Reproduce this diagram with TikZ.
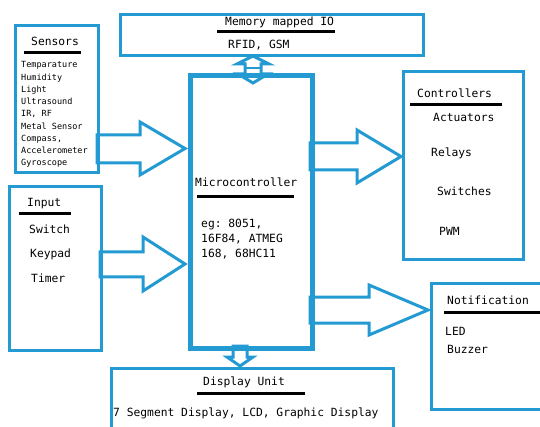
\documentclass[tikz,border=0pt]{standalone}
\usepackage{fontspec}
\setmonofont{DejaVu Sans Mono}
\definecolor{bl}{RGB}{35,155,210}
\begin{document}
\begin{tikzpicture}[x=1pt,y=-1pt,
  box/.style={draw=bl, line width=3pt, inner sep=0pt, anchor=north west},
  txt/.style={font=\fontsize{11.3}{13}\selectfont\ttfamily, inner sep=0pt, anchor=base west},
  smalltxt/.style={font=\fontsize{8.5}{10}\selectfont\ttfamily, inner sep=0pt, anchor=base west},
  uline/.style={draw=black, line width=3pt},
  blk/.style={draw=bl, line width=3pt, fill=white, line join=miter}]
\clip (0,0) rectangle (540,427);
\fill[white] (0,0) rectangle (540,427);

% block arrows (drawn first, boxes on top)
\draw[blk] (97,135) -- (140,135) -- (140,122) -- (185,148.5) -- (140,175) -- (140,163) -- (97,163) -- cycle;
\draw[blk] (100,252) -- (143,252) -- (143,237) -- (185,264) -- (143,291) -- (143,277) -- (100,277) -- cycle;
\draw[blk] (310,143) -- (357,143) -- (357,130) -- (401,156.5) -- (357,183) -- (357,170) -- (310,170) -- cycle;
\draw[blk] (310,297) -- (369,297) -- (369,285) -- (428,310) -- (369,335) -- (369,323) -- (310,323) -- cycle;
\draw[blk] (253,56) -- (237,64) -- (245,64) -- (245,74) -- (238,74) -- (253,83) -- (268,74) -- (261,74) -- (261,64) -- (269,64) -- cycle;
\draw[bl, line width=2.5pt] (245,68) -- (261,68);
\draw[blk] (233,346) -- (233,357) -- (227,357) -- (240,366) -- (253,357) -- (247,357) -- (247,346) -- cycle;

% boxes
\node[box, minimum width=83pt, minimum height=147pt] (sens) at (14,24) {};
\node[box, minimum width=303pt, minimum height=41pt] (mem) at (119,13) {};
\node[box, line width=5pt, minimum width=122pt, minimum height=273pt] (mcu) at (188,73) {};
\node[box, minimum width=92pt, minimum height=164pt] (inp) at (8,185) {};
\node[box, minimum width=120pt, minimum height=188pt] (ctrl) at (402,70) {};
\node[box, minimum width=120pt, minimum height=126pt] (notif) at (430,282) {};
\node[box, minimum width=282pt, minimum height=70pt] (disp) at (110,367) {};

% Sensors
\node[txt] (sensT) at (31,46) {Sensors};
\draw[uline] (24,53) -- (81,53);
\foreach \t [count=\i from 0] in {Temparature,Humidity,Light,Ultrasound,{IR, RF},Metal Sensor,{Compass,},Accelerometer,Gyroscope}
  \node[smalltxt] (s\i) at (21,{68+12.25*\i}) {\t};

% Memory mapped IO
\node[txt] (memT) at (225,26) {Memory mapped IO};
\draw[uline] (217,32) -- (335,32);
\node[txt] (memI) at (228,49) {RFID, GSM};

% Microcontroller
\node[txt] (mcuT) at (195,187) {Microcontroller};
\draw[uline] (197,197) -- (294,197);
\node[txt] (m1) at (201,228) {eg: 8051,};
\node[txt] (m2) at (201,243) {16F84, ATMEG};
\node[txt] (m3) at (201,258) {168, 68HC11};

% Input
\node[txt] (inpT) at (27,207) {Input};
\draw[uline] (19,214) -- (71,214);
\node[txt] (i1) at (29,234) {Switch};
\node[txt] (i2) at (30,258) {Keypad};
\node[txt] (i3) at (31,283) {Timer};

% Controllers
\node[txt] (ctrlT) at (417,98) {Controllers};
\draw[uline] (410,105) -- (502,105);
\node[txt] (c1) at (433,122) {Actuators};
\node[txt] (c2) at (431,157) {Relays};
\node[txt] (c3) at (437,196) {Switches};
\node[txt] (c4) at (439,236) {PWM};

% Notification
\node[txt] (notT) at (447,304) {Notification};
\draw[uline] (444,312) -- (540,312);
\node[txt] (n1) at (445,335) {LED};
\node[txt] (n2) at (447,353) {Buzzer};

% Display Unit
\node[txt] (dispT) at (203,385) {Display Unit};
\draw[uline] (197,393) -- (305,393);
\node[txt] (d1) at (113,416) {7 Segment Display, LCD, Graphic Display};
\end{tikzpicture}
\end{document}
